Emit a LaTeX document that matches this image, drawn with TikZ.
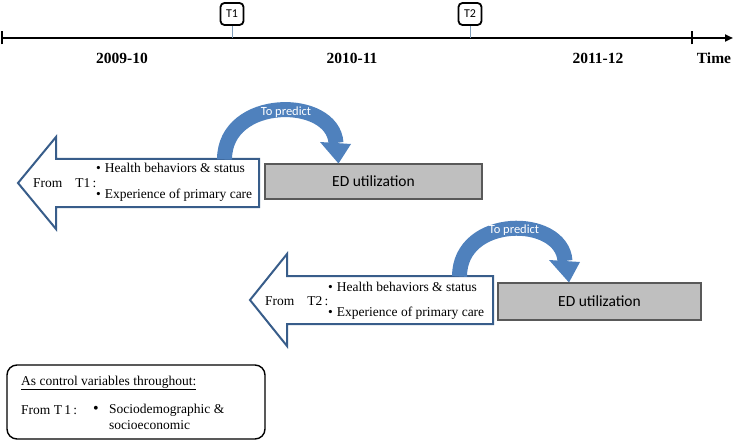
\documentclass[tikz,border=0pt]{standalone}
\usepackage{fontspec}
\setmainfont{Liberation Serif}
\newfontfamily\calib{Carlito}
\usetikzlibrary{arrows.meta}
\definecolor{bandblue}{HTML}{4F81BD}
\definecolor{outlineblue}{HTML}{385D8A}
\definecolor{edgray}{HTML}{BFBFBF}
\definecolor{edborder}{HTML}{595959}
\definecolor{tickblue}{HTML}{7F9DB9}
\begin{document}
\begin{tikzpicture}[x=1pt,y=-1pt,
  timeline/.style={line width=2pt,-{Triangle[length=8pt,width=7pt]}},
  endtick/.style={line width=1.3pt},
  tbox/.style={draw,line width=1.8pt,rounded corners=4pt,minimum width=23pt,minimum height=22pt,inner sep=0pt,font=\calib\fontsize{12}{14}\selectfont},
  tconn/.style={draw=tickblue,line width=0.8pt},
  period/.style={font=\bfseries\fontsize{15.5}{18}\selectfont},
  bigarrow/.style={draw=outlineblue,line width=2pt,fill=white,line join=miter},
  edbox/.style={draw=edborder,line width=1.2pt,fill=edgray,inner sep=0pt,font=\calib\fontsize{15.5}{18}\selectfont},
  band/.style={draw=bandblue,line width=15pt},
  bandtip/.style={fill=bandblue},
  predict/.style={text=white,font=\calib\fontsize{12.5}{15}\selectfont},
  body/.style={font=\fontsize{13.5}{16}\selectfont,inner sep=0pt},
  ctrlbox/.style={draw,line width=1.4pt,rounded corners=10pt}
]
\useasboundingbox (0,0) rectangle (734,441);

% timeline
\coordinate (tls) at (2,38);
\coordinate (tle) at (733,38);
\coordinate (tk) at (692,38);
\draw[timeline] (tls) -- (tle);
\draw[endtick] ([yshift=-6.5pt]tls) -- ([yshift=6.5pt]tls);
\draw[endtick] ([yshift=-6.5pt]tk) -- ([yshift=6.5pt]tk);

\node[tbox] (t1) at (232,14) {T1};
\node[tbox] (t2) at (470,14) {T2};
\draw[tconn] (t1.south) -- (t1.south |- tls);
\draw[tconn] (t2.south) -- (t2.south |- tls);

\node[period] (p1) at (122,58) {2009-10};
\node[period] (p2) at (352,58) {2010-11};
\node[period] (p3) at (598,58) {2011-12};
\node[period] (tm) at (714,58) {Time};

% ---- first block arrow
\draw[bigarrow] (259,159) -- (56,159) -- (56,137) -- (18,183) -- (56,229) -- (56,207) -- (259,207) -- cycle;
\node[body,anchor=west] (f1) at (33,183) {From\hspace{0.95em}T1\,:};
\node[body,anchor=west] (b1a) at (96,168) {\textbullet\hspace{4pt}Health behaviors \& status};
\node[body,anchor=west] (b1b) at (96,195) {\textbullet\hspace{4pt}Experience of primary care};

\node[edbox,minimum width=217pt,minimum height=35pt] (ed1) at (373.5,181.5) {ED utilization};

\coordinate (c1s) at (224.5,159.5);
\coordinate (c1e) at (336,143);
\draw[band] (c1s) .. controls (224.5,96) and (333,96) .. (c1e);
\fill[bandtip] (320,142) -- (351,144) -- (338.5,163.5) -- cycle;
\node[predict] (tp1) at (286,112) {To predict};

% ---- second block arrow
\draw[bigarrow] (493,276) -- (287,276) -- (287,254) -- (250,300) -- (287,346) -- (287,324) -- (493,324) -- cycle;
\node[body,anchor=west] (f2) at (265,301) {From\hspace{0.95em}T2\,:};
\node[body,anchor=west] (b2a) at (328,287) {\textbullet\hspace{4pt}Health behaviors \& status};
\node[body,anchor=west] (b2b) at (328,313) {\textbullet\hspace{4pt}Experience of primary care};

\node[edbox,minimum width=203pt,minimum height=37pt] (ed2) at (599.5,301.5) {ED utilization};

\coordinate (c2s) at (459.5,276.5);
\coordinate (c2e) at (565,261);
\draw[band] (c2s) .. controls (459.5,215) and (562,215) .. (c2e);
\fill[bandtip] (549,260) -- (580,262) -- (569,282.5) -- cycle;
\node[predict] (tp2) at (514,230) {To predict};

% ---- control box
\node[ctrlbox,minimum width=258pt,minimum height=74pt,inner sep=0pt] (ctrl) at (136,402) {};
\node[body,anchor=west] (cv) at (21,383) {\underline{As control variables throughout:}};
\node[body,anchor=west] (cf) at (21,410) {From T\,1\,:};
\node[body,anchor=west] (cb) at (93,410) {\fontsize{16}{16}\selectfont\textbullet};
\node[body,anchor=west] (cs1) at (109,410) {Sociodemographic \&};
\node[body,anchor=west] (cs2) at (109,425) {socioeconomic};
\end{tikzpicture}
\end{document}
